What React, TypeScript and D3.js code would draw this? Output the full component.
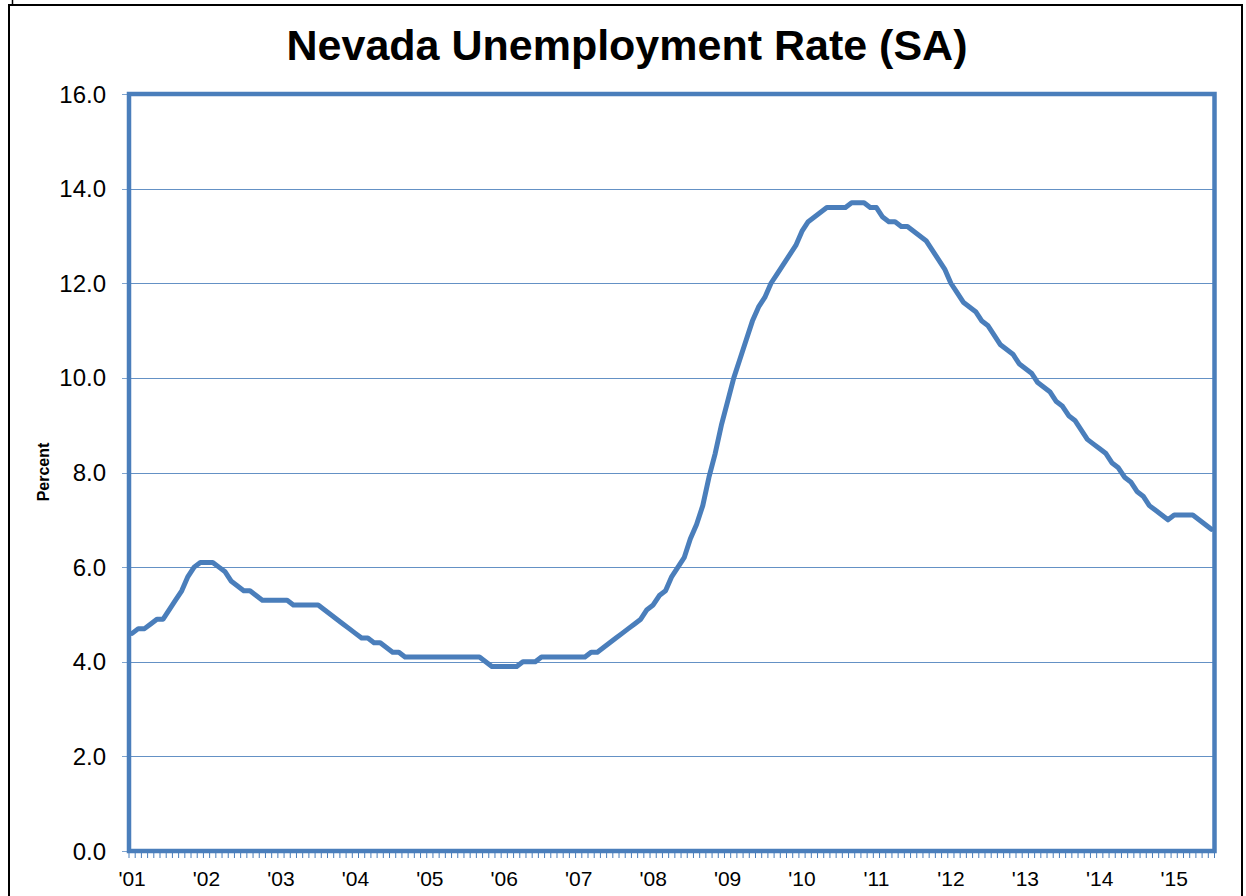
import React, { useEffect, useRef } from 'react';
import * as d3 from 'd3';

// Monthly Nevada unemployment rate, seasonally adjusted, Jan 2001 - Jul 2015
const rates = [
  4.6, 4.7, 4.7, 4.8, 4.9, 4.9, 5.1, 5.3, 5.5, 5.8, 6.0, 6.1, // 2001
  6.1, 6.1, 6.0, 5.9, 5.7, 5.6, 5.5, 5.5, 5.4, 5.3, 5.3, 5.3, // 2002
  5.3, 5.3, 5.2, 5.2, 5.2, 5.2, 5.2, 5.1, 5.0, 4.9, 4.8, 4.7, // 2003
  4.6, 4.5, 4.5, 4.4, 4.4, 4.3, 4.2, 4.2, 4.1, 4.1, 4.1, 4.1, // 2004
  4.1, 4.1, 4.1, 4.1, 4.1, 4.1, 4.1, 4.1, 4.1, 4.0, 3.9, 3.9, // 2005
  3.9, 3.9, 3.9, 4.0, 4.0, 4.0, 4.1, 4.1, 4.1, 4.1, 4.1, 4.1, // 2006
  4.1, 4.1, 4.2, 4.2, 4.3, 4.4, 4.5, 4.6, 4.7, 4.8, 4.9, 5.1, // 2007
  5.2, 5.4, 5.5, 5.8, 6.0, 6.2, 6.6, 6.9, 7.3, 7.9, 8.4, 9.0, // 2008
  9.5, 10.0, 10.4, 10.8, 11.2, 11.5, 11.7, 12.0, 12.2, 12.4, 12.6, 12.8, // 2009
  13.1, 13.3, 13.4, 13.5, 13.6, 13.6, 13.6, 13.6, 13.7, 13.7, 13.7, 13.6, // 2010
  13.6, 13.4, 13.3, 13.3, 13.2, 13.2, 13.1, 13.0, 12.9, 12.7, 12.5, 12.3, // 2011
  12.0, 11.8, 11.6, 11.5, 11.4, 11.2, 11.1, 10.9, 10.7, 10.6, 10.5, 10.3, // 2012
  10.2, 10.1, 9.9, 9.8, 9.7, 9.5, 9.4, 9.2, 9.1, 8.9, 8.7, 8.6, // 2013
  8.5, 8.4, 8.2, 8.1, 7.9, 7.8, 7.6, 7.5, 7.3, 7.2, 7.1, 7.0, // 2014
  7.1, 7.1, 7.1, 7.1, 7.0, 6.9, 6.8 // 2015
];

const yearLabels = ["'01", "'02", "'03", "'04", "'05", "'06", "'07", "'08", "'09", "'10", "'11", "'12", "'13", "'14", "'15"];
const yTicks = [0, 2, 4, 6, 8, 10, 12, 14, 16];

const width = 1246;
const height = 896;
const plot = { left: 129, top: 94, right: 1214.5, bottom: 851 };
const blue = '#4a7ebb';
const font = 'Arial, "Liberation Sans", sans-serif';

const App = () => {
  const svgRef = useRef<SVGSVGElement>(null);

  useEffect(() => {
    const svg = d3.select(svgRef.current);
    svg.selectAll('*').remove();

    // month categories
    const months = rates.map((_, i) => i);
    const x = d3.scaleBand<number>()
      .domain(months)
      .range([plot.left, plot.right])
      .padding(0);
    const cx = (i: number) => (x(i) as number) + x.bandwidth() / 2;

    const y = d3.scaleLinear().domain([0, 16]).range([plot.bottom, plot.top]);

    svg.append('rect')
      .attr('width', width).attr('height', height).attr('fill', '#fff');

    // outer frame
    svg.append('rect')
      .attr('x', 9).attr('y', 5)
      .attr('width', 1233).attr('height', 900)
      .attr('fill', 'none').attr('stroke', '#000').attr('stroke-width', 2);
    svg.append('line')
      .attr('x1', 12.5).attr('x2', 12.5).attr('y1', 0).attr('y2', 5)
      .attr('stroke', '#000').attr('stroke-width', 1.5);

    // title
    svg.append('text')
      .attr('x', 627).attr('y', 60)
      .attr('text-anchor', 'middle')
      .attr('font-family', font)
      .attr('font-weight', 'bold')
      .attr('font-size', 43)
      .text('Nevada Unemployment Rate (SA)');

    // gridlines
    svg.append('g').selectAll('line')
      .data(yTicks.slice(1, -1))
      .enter().append('line')
      .attr('x1', plot.left).attr('x2', plot.right)
      .attr('y1', d => Math.round(y(d)) + 0.5)
      .attr('y2', d => Math.round(y(d)) + 0.5)
      .attr('stroke', blue).attr('stroke-width', 1).attr('opacity', 0.85);

    // y ticks and labels
    const yAxis = svg.append('g');
    yAxis.selectAll('line')
      .data(yTicks)
      .enter().append('line')
      .attr('x1', plot.left - 7).attr('x2', plot.left)
      .attr('y1', d => Math.round(y(d)) + 0.5)
      .attr('y2', d => Math.round(y(d)) + 0.5)
      .attr('stroke', blue).attr('stroke-width', 1).attr('opacity', 0.7);
    yAxis.selectAll('text')
      .data(yTicks)
      .enter().append('text')
      .attr('x', 106)
      .attr('y', d => y(d) + 8.5)
      .attr('text-anchor', 'end')
      .attr('font-family', font)
      .attr('font-size', 24)
      .text(d => d.toFixed(1));

    // x monthly tick marks
    const boundaries = d3.range(months.length + 1);
    svg.append('g').selectAll('line')
      .data(boundaries)
      .enter().append('line')
      .attr('x1', d => plot.left + d * x.bandwidth())
      .attr('x2', d => plot.left + d * x.bandwidth())
      .attr('y1', plot.bottom)
      .attr('y2', plot.bottom + 7)
      .attr('stroke', blue).attr('stroke-width', 1);

    // year labels at each January
    svg.append('g').selectAll('text')
      .data(yearLabels)
      .enter().append('text')
      .attr('x', (_, i) => cx(i * 12))
      .attr('y', 886)
      .attr('text-anchor', 'middle')
      .attr('font-family', font)
      .attr('font-size', 21)
      .text(d => d);

    // axis title
    svg.append('text')
      .attr('transform', 'translate(49, 472) rotate(-90)')
      .attr('text-anchor', 'middle')
      .attr('font-family', font)
      .attr('font-weight', 'bold')
      .attr('font-size', 16)
      .text('Percent');

    // series line
    const line = d3.line<number>()
      .x((_, i) => cx(i))
      .y(d => y(d));

    svg.append('path')
      .datum(rates)
      .attr('d', line)
      .attr('fill', 'none')
      .attr('stroke', blue)
      .attr('stroke-width', 5)
      .attr('stroke-linejoin', 'round')
      .attr('stroke-linecap', 'round');

    // plot area border
    svg.append('rect')
      .attr('x', plot.left).attr('y', plot.top)
      .attr('width', plot.right - plot.left)
      .attr('height', plot.bottom - plot.top)
      .attr('fill', 'none')
      .attr('stroke', blue)
      .attr('stroke-width', 4.5);
  }, []);

  return (
    <svg
      ref={svgRef}
      width={width}
      height={height}
      style={{ position: 'absolute', left: 0, top: 0, display: 'block' }}
    />
  );
};

export default App;
